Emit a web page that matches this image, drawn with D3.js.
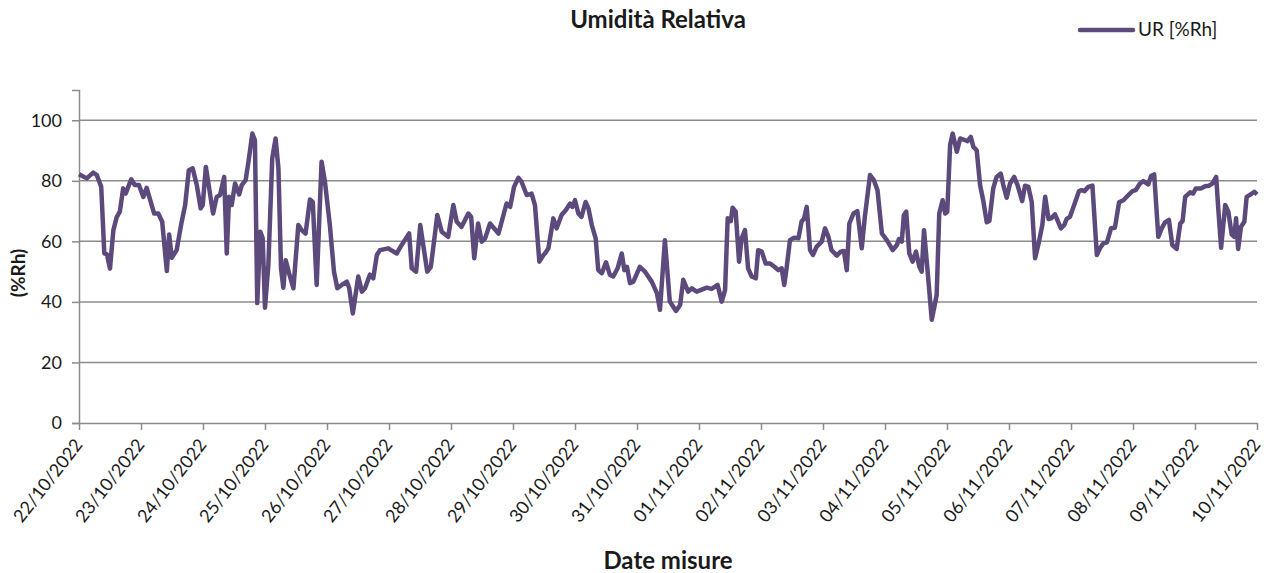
<!DOCTYPE html>
<html>
<head>
<meta charset="utf-8">
<script src="https://cdn.jsdelivr.net/npm/d3@7"></script>
<style>
  body { margin: 0; background: #fff; }
  svg text { font-family: Lato, "Open Sans", sans-serif; fill: #1a1a1a; }
</style>
</head>
<body>
<div id="chart"></div>
<script>
// hours since 22/10/2022 00:00
let hours = [
  0, 3.0, 5.5, 6.9, 8.6, 9.8, 10.8, 12.0, 13.3, 14.6, 15.8, 17.1, 18.1, 20.2, 21.6, 23.2,
  24.9, 26.2, 29.1, 30.7, 32.2, 34.0, 34.9, 35.9, 37.8, 39.5, 41.1, 42.5, 44.0, 45.6, 47.1,
  47.9, 49.1, 50.0, 51.9, 53.3, 54.6, 56.2, 57.2, 58.1, 59.1, 60.4, 62.0, 63.0, 64.5, 65.6,
  67.1, 68.1, 69.0, 70.2, 71.1, 72.0, 73.3, 74.8, 76.1, 77.2, 78.2, 79.1, 80.0, 81.3, 83.0,
  84.9, 86.2, 87.7, 89.4, 90.5, 92.0, 93.9, 95.2, 97.1, 98.7, 100.0, 101.7, 103.7, 104.6, 106.0,
  108.1, 109.5, 110.7, 112.6, 113.9, 115.3, 116.5, 119.7, 123.0, 124.9, 127.8, 128.8, 130.5,
  132.1, 134.8, 136.2, 138.7, 140.4, 142.9, 144.9, 146.2, 148.1, 150.7, 151.8, 153.0, 154.5,
  155.9, 157.2, 159.1, 162.4, 165.5, 166.9, 168.4, 170.1, 171.3, 173.3, 175.2, 176.5, 178.2,
  179.8, 180.4, 181.7, 183.6, 184.9, 186.8, 188.4, 190.1, 191.0, 192.0, 193.3, 194.5, 196.1,
  197.2, 198.5, 200.0, 201.0, 202.4, 204.0, 205.5, 206.8, 208.5, 210.1, 211.1, 212.1, 213.3,
  214.6, 217.1, 219.1, 221.7, 223.7, 224.9, 226.8, 228.7, 231.1, 232.7, 233.9, 235.8, 237.2,
  239.1, 243.0, 244.9, 247.2, 248.8, 250.1, 251.1, 252.3, 253.0, 254.2, 255.5, 256.5, 257.8,
  259.0, 260.4, 262.0, 262.9, 264.3, 265.8, 267.5, 269.2, 270.7, 272.0, 273.0, 273.9, 275.2,
  276.8, 278.5, 279.7, 280.7, 281.7, 283.0, 284.1, 285.5, 287.5, 288.8, 290.1, 291.3, 293.4,
  294.8, 296.1, 297.2, 298.2, 299.8, 301.3, 303.0, 304.2, 306.2, 307.7, 309.1, 310.8, 312.7,
  315.0, 316.6, 317.4, 318.5, 319.3, 320.2, 321.4, 322.7, 324.0, 325.3, 326.2, 327.1, 328.4,
  330.1, 332.0, 333.0, 334.3, 335.3, 336.1, 337.2, 338.2, 339.8, 341.1, 343.0, 343.9, 345.2,
  346.2, 347.5, 348.8, 350.0, 351.4, 352.4, 353.9, 355.2, 356.8, 357.8, 359.1, 360.4, 362.0,
  363.3, 365.1, 366.2, 367.5, 368.8, 370.1, 371.6, 372.9, 374.0, 375.3, 376.3, 377.8, 380.1,
  381.4, 382.3, 383.6, 385.3, 387.1, 388.1, 389.2, 390.7, 392.3, 394.0, 395.2, 396.5, 397.9,
  399.5, 401.0, 402.6, 404.3, 406.2, 407.8, 409.0, 410.7, 412.0, 413.9, 415.0, 416.2, 417.8,
  419.1, 420.4, 421.9, 423.2, 424.9, 426.3, 427.2, 428.2, 430.1, 431.3, 432.3, 434.4, 435.9,
  437.4, 438.7, 440.2, 441.0, 442.1, 443.7, 444.9, 446.2, 447.2, 447.9, 448.7, 449.8, 451.1,
  452.0, 454.0, 455.0, 456.0
]

let ur = [
  82.2, 80.8, 82.7, 81.9, 78, 56, 55.7, 51, 63.7, 68, 69.8, 77.5, 75.8, 80.5, 78.6, 78.6,
  74.7, 77.7, 69.2, 69.2, 66.5, 50.2, 62.3, 54.6, 57.1, 65.4, 72, 83.5, 84.1, 78.6, 70.9,
  72, 84.6, 79.7, 69.2, 74.7, 75.3, 81.3, 56, 74.7, 72, 79.1, 75.5, 78.6, 80.2, 86.3,
  95.6, 93.4, 39.6, 63.2, 61, 38.1, 52.2, 87.4, 94, 84.1, 51.1, 44.7, 53.8, 49.5, 44.5,
  65.4, 63.7, 62.6, 73.8, 73, 45.6, 86.3, 79.7, 65.4, 50, 44.5, 45.6, 46.7, 44.5, 36.2,
  48.4, 43.4, 44.5, 49, 47.8, 55.5, 57.1, 57.7, 56, 58.8, 62.6, 51.1, 50,
  65.4, 50, 51.6, 68.7, 63.2, 61.5, 72, 66.5, 64.8, 69.2, 68.1, 54.4, 65.9,
  59.9, 61, 65.9, 62.6, 72.5, 71.4, 78, 81, 79.7, 75.3, 75.8, 72, 53.3,
  55.5, 56, 57.7, 67.6, 64.3, 68.7, 70.3, 72.5, 71.4, 73.6, 69.2, 68.1, 73,
  70.9, 65.4, 61, 50.5, 49.5, 53.1, 48.9, 48.4, 51.1, 56, 50.5, 51.6, 46.2,
  46.7, 51.6, 50, 46.7, 42.9, 37.4, 60.4, 40.1, 37, 39, 47.3, 43.4, 44.5,
  43.4, 44.7, 44.3, 45.6, 40.1, 44, 67.6, 66.7, 71.1, 69.8, 53.3, 61, 63.7,
  51.1, 48.4, 47.8, 57.1, 56.6, 52.7, 52.7, 51.6, 50.5, 51.1, 45.6, 51.1, 60.4,
  61.2, 61, 66.5, 67.6, 71.4, 57.1, 55.5, 58.2, 59.9, 64.3, 61.5, 57.1, 55.3,
  56.6, 56.8, 50.5, 65.9, 69.2, 70, 57.7, 68.1, 81.9, 80.2, 76.9, 62.6, 60.4,
  57.1, 58.8, 60.8, 59.9, 68.7, 69.8, 56, 53.3, 56.6, 51.6, 50, 63.7, 51.1,
  34.1, 42.3, 69.2, 73.6, 69.2, 69.8, 91.8, 95.6, 89.6, 94, 93.4, 93.1, 94.5,
  91.2, 90.1, 78.6, 73.6, 66.3, 66.7, 77.5, 81.3, 82.4, 78.6, 74.4, 79.1, 81.3,
  78.6, 73.3, 78.4, 78, 73, 54.4, 59.9, 65.4, 74.7, 67.4, 67.6, 68.9, 64.3,
  65.4, 67.4, 68.1, 72.2, 76.6, 76.9, 76.6, 78, 78.4, 55.5, 57.7, 59.3, 59.7,
  64.3, 64.5, 72.9, 73.6, 75.3, 76.6, 76.9, 79.1, 79.9, 78.8, 81.6, 82.1, 61.5,
  64.3, 66.3, 67.1, 58.8, 57.5, 65.9, 66.7, 74.7, 76.2, 75.8, 77.5, 77.5, 78.2,
  78.4, 79.1, 81.3, 70.9, 57.9, 72, 69.8, 62.3, 61.5, 67.6, 57.5, 64.8, 66.5,
  74.7, 75.8, 76.4, 75.5
]

let yTicks = [0, 20, 40, 60, 80, 100]
let startDate = new Date(2022, 9, 22)
let endDate = new Date(2022, 10, 10)

let width = 1274
let height = 573
let plotLeft = 79, plotRight = 1257, plotTop = 90, plotBottom = 423
let lineColor = '#5d4a7c'
let gridColor = '#8c8c8c'

let data = hours.map((h, i) => ({ date: new Date(startDate.getTime() + h * 3600000), value: ur[i] }))

let svg = d3.select('#chart')
            .append('svg')
              .attr('width', width)
              .attr('height', height)

let xScale = d3.scaleTime()
              .domain([startDate, endDate])
              .range([plotLeft, plotRight])

let yScale = d3.scaleLinear()
              .domain([0, 110])
              .range([plotBottom, plotTop])

// horizontal gridlines
svg.selectAll('line.grid')
  .data(yTicks.slice(1))
  .enter()
  .append('line')
    .attr('class', 'grid')
    .attr('x1', plotLeft)
    .attr('x2', plotRight)
    .attr('y1', d => yScale(d))
    .attr('y2', d => yScale(d))
    .attr('stroke', gridColor)
    .attr('stroke-width', 1.5)

// y axis
let yAxis = svg.append('g')
  .attr('transform', `translate(${plotLeft},0)`)
  .call(d3.axisLeft(yScale).tickValues(yTicks).tickSize(7).tickPadding(10))
yAxis.select('.domain').attr('stroke', gridColor).attr('stroke-width', 1.5)
yAxis.selectAll('.tick line').attr('stroke', gridColor).attr('stroke-width', 1.5)
yAxis.selectAll('.tick text')
  .style('font-size', '18px')
  .style('font-family', 'Lato, sans-serif')
  .attr('fill', '#1a1a1a')

// x axis
let xAxis = svg.append('g')
  .attr('transform', `translate(0,${plotBottom})`)
  .call(d3.axisBottom(xScale)
    .ticks(d3.timeDay.every(1))
    .tickFormat(d3.timeFormat('%d/%m/%Y'))
    .tickSize(7)
    .tickSizeOuter(0))
xAxis.select('.domain').attr('stroke', gridColor).attr('stroke-width', 1.5)
xAxis.selectAll('.tick line').attr('stroke', gridColor).attr('stroke-width', 1.5)
xAxis.selectAll('.tick text')
  .style('font-size', '18px')
  .style('font-family', 'Lato, sans-serif')
  .attr('fill', '#1a1a1a')
  .attr('text-anchor', 'end')
  .attr('dx', 0)
  .attr('dy', 0)
  .attr('y', 0)
  .attr('transform', 'translate(4,22) rotate(-52)')

// the series
let line = d3.line()
  .x(d => xScale(d.date))
  .y(d => yScale(d.value))

svg.append('path')
  .datum(data)
  .attr('d', line)
  .attr('fill', 'none')
  .attr('stroke', lineColor)
  .attr('stroke-width', 4.5)
  .attr('stroke-linejoin', 'round')

// titles
svg.append('text')
  .attr('x', 658)
  .attr('y', 28)
  .attr('text-anchor', 'middle')
  .style('font-size', '24px')
  .style('font-weight', 'bold')
  .text('Umidità Relativa')

svg.append('text')
  .attr('x', 668)
  .attr('y', 569)
  .attr('text-anchor', 'middle')
  .style('font-size', '24px')
  .style('font-weight', 'bold')
  .text('Date misure')

svg.append('text')
  .attr('transform', 'translate(25,273) rotate(-90)')
  .attr('text-anchor', 'middle')
  .style('font-size', '19px')
  .style('font-weight', 'bold')
  .text('(%Rh)')

// legend
svg.append('line')
  .attr('x1', 1080)
  .attr('x2', 1133)
  .attr('y1', 30)
  .attr('y2', 30)
  .attr('stroke', lineColor)
  .attr('stroke-width', 4.5)
  .attr('stroke-linecap', 'round')

svg.append('text')
  .attr('x', 1138)
  .attr('y', 36)
  .style('font-size', '19px')
  .text('UR [%Rh]')
</script>
</body>
</html>
